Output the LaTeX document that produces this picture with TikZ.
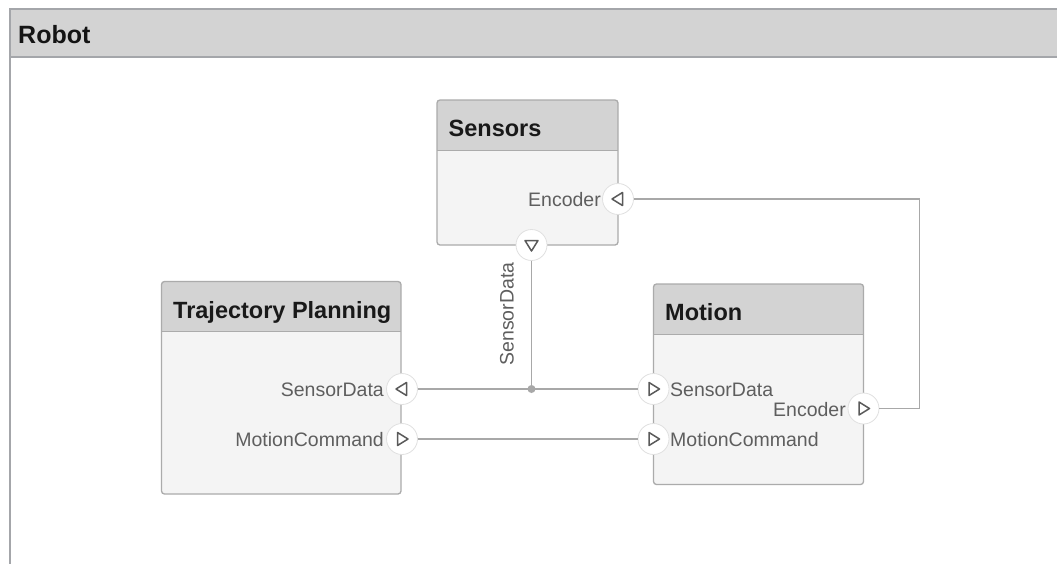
\documentclass[tikz,border=0pt]{standalone}
\usepackage{fontspec}
\setmainfont{Liberation Sans}
\usetikzlibrary{calc}

\definecolor{framecol}{HTML}{A4A6AA}
\definecolor{headcol}{HTML}{D3D3D3}
\definecolor{bodycol}{HTML}{F4F4F4}
\definecolor{bordercol}{HTML}{ABABAB}
\definecolor{wirecol}{HTML}{A8A8A8}
\definecolor{labcol}{HTML}{5E5E5E}
\definecolor{tricol}{HTML}{5A5A5A}
\definecolor{portedge}{HTML}{E0E0E0}

% A component block: name, x, y, width, height, title
\newcommand\mkblock[6]{%
  \node[blockbody, anchor=north west, minimum width=#4, minimum height=#5] (#1) at (#2,#3) {};
  \begin{scope}
    \clip[rounded corners=3pt] (#1.north west) rectangle (#1.south east);
    \fill[headcol] (#1.north west) rectangle ($(#1.north east)+(0,50)$);
  \end{scope}
  \draw[bordercol, line width=1pt] ($(#1.north west)+(0,50)$) -- ($(#1.north east)+(0,50)$);
  \draw[bordercol, line width=1.3pt, rounded corners=3pt] (#1.north west) rectangle (#1.south east);
  \node[btitle, anchor=base west] (#1-title) at ($(#1.north west)+(11.5,36.5)$) {#6};
}

% A port: name, x, y, direction of its triangle (degrees)
\newcommand\mkport[4]{%
  \node[port] (#1) at (#2,#3) {};
  \draw[tri, shift={(#1.center)}, rotate=#4] (-4.5,-6.5) -- (6,0) -- (-4.5,6.5) -- cycle;
}

\begin{document}
\begin{tikzpicture}[x=1pt, y=-1pt,
    blockbody/.style={rectangle, fill=bodycol, inner sep=0pt, outer sep=0pt, rounded corners=3pt},
    btitle/.style={inner sep=0pt, font=\fontsize{23.5}{28}\selectfont\bfseries, text=black!90},
    rtitle/.style={inner sep=0pt, font=\fontsize{25}{30}\selectfont\bfseries, text=black!92},
    plabel/.style={inner sep=0pt, font=\fontsize{19.5}{23}\selectfont, text=labcol},
    port/.style={circle, fill=white, draw=portedge, line width=0.8pt, minimum size=31pt, inner sep=0pt, outer sep=0pt},
    tri/.style={draw=tricol, line width=1.5pt, line join=round},
    wire/.style={draw=wirecol, line width=1.3pt},
    dot/.style={circle, fill=wirecol, minimum size=8pt, inner sep=0pt}]

\useasboundingbox (0,0) rectangle (1057,563);
\clip (0,0) rectangle (1057,563);
\fill[white] (0,0) rectangle (1057,563);

% Outer Robot container
\node[rectangle, anchor=north west, minimum width=1100, minimum height=600, inner sep=0pt,
      fill=white] (robot) at (10,9) {};
\fill[headcol] (robot.north west) rectangle ($(robot.north east)+(0,48)$);
\draw[framecol, line width=1.2pt] ($(robot.north west)+(0,48)$) -- ($(robot.north east)+(0,48)$);
\draw[framecol, line width=1.6pt] (robot.south west) -- (robot.north west) -- (robot.north east);
\node[rtitle, anchor=base west] (robot-title) at (18,43) {Robot};

% Components
\mkblock{sens}{437}{100}{181}{145}{Sensors}
\mkblock{traj}{161.5}{281.5}{239.5}{212.5}{Trajectory Planning}
\mkblock{motion}{653.5}{284}{210}{200.5}{Motion}

% Ports on the block edges
\mkport{sEnc}{618}{199}{180}
\mkport{sSD}{531.5}{245}{-90}
\mkport{tpSD}{402}{389}{180}
\mkport{tpMC}{402}{439}{0}
\mkport{mSD}{653.5}{389}{0}
\mkport{mMC}{653.5}{439}{0}
\mkport{mEnc}{863.5}{408.5}{0}

% Connectors between ports
\coordinate (fbturn) at (919.5,408.5);
\node[dot] (jn) at (sSD |- tpSD) {};

\draw[wire] (tpSD) -- (mSD);
\draw[wire] (tpMC) -- (mMC);
\draw[wire] (sSD) -- (jn.center);
\draw[wire] (mEnc) -- (fbturn) |- (sEnc);

% Port labels
\node[plabel, anchor=base east] (sEnc-l) at (601,206) {Encoder};
\node[plabel, anchor=base east] (tpSD-l) at (384,396.5) {SensorData};
\node[plabel, anchor=base east] (tpMC-l) at (384,446.5) {MotionCommand};
\node[plabel, anchor=base west] (mSD-l) at (670,396) {SensorData};
\node[plabel, anchor=base west] (mMC-l) at (670,446) {MotionCommand};
\node[plabel, anchor=base east] (mEnc-l) at (846,416.5) {Encoder};
\node[plabel, rotate=90, anchor=center] (sSD-l) at (507,314) {SensorData};

\end{tikzpicture}
\end{document}
